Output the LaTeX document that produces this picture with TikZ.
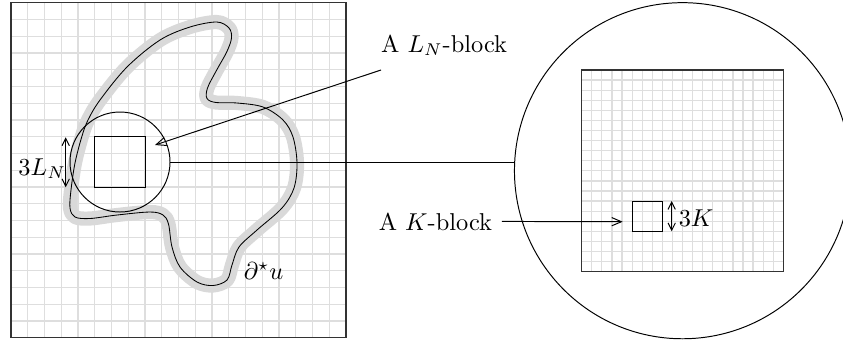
\documentclass[tikz,border=0pt]{standalone}
\usetikzlibrary{arrows.meta}
\begin{document}
\begin{tikzpicture}[x=0.41pt,y=-0.41pt,
  gridline/.style={black!13, line width=0.5pt},
  frame/.style={black!80, line width=0.6pt},
  thinline/.style={black, line width=0.4pt},
  pointer/.style={thinline, -{Straight Barb[length=4pt,width=3.4pt]}},
  measure/.style={thinline, {Straight Barb[length=3pt,width=3pt]}-{Straight Barb[length=3pt,width=3pt]}},
  lab/.style={inner sep=0pt, anchor=base west},
  blockbox/.style={draw, thinline, inner sep=0pt, rectangle},
  ring/.style={draw, thinline, inner sep=0pt, circle}]
\useasboundingbox (0,0) rectangle (843,343);
% left grid
\foreach \i in {1,...,19}{
  \draw[gridline] ({11+16.75*\i},2.7) -- ({11+16.75*\i},337.7);
  \draw[gridline] (11,{2.7+16.75*\i}) -- (346,{2.7+16.75*\i});
}
\draw[frame] (11,2.7) rectangle (346,337.7);
% blob
\draw[black, line width=0.35pt, preaction={draw, black!15, line width=5.8pt, line join=round}]
  plot[smooth cycle, tension=0.55] coordinates {
  (216.7,22) (229,28) (231.5,38) (226.7,52) (216.7,70) (207.5,88) (207,98.5)
  (216,102.5) (237,103) (263,107) (283,120) (293,137) (297,163) (294,188)
  (282,208) (257,230) (239,247) (232,265) (227,280) (213,285.5) (197,282)
  (180,267) (172,247) (168.5,224) (163,215) (150,212) (117,215) (90,218.5)
  (75,217) (70,208) (71,190) (75,163) (81.7,137) (88,120) (100,100)
  (127,67) (160,40) (190,27)};
% L_N block
\node[blockbox, minimum size=20.6pt] (lbox) at (120,162) {};
\node[ring, minimum size=41pt] (lcirc) at (120,162) {};
\coordinate (la1) at (65.7,137.3);
\coordinate (la2) at (65.7,187.3);
\draw[measure] (la1) -- (la2);
\node[lab] (lnlen) at (18,175) {$3L_N$};
\node[lab] (bdry) at (243.3,279) {$\partial^\star u$};
% labels top
\node[lab] (lnlab) at (380.7,52.3) {A $L_N$-block};
\coordinate (lnstart) at (381,70);
\coordinate (lntip) at (155,145);
\draw[pointer] (lnstart) -- (lntip);
% big circle
\node[ring, minimum size=137.8pt] (bcirc) at (682.5,170.7) {};
\draw[thinline] (lcirc.east) -- (lcirc.east -| bcirc.west);
% right grid
\foreach \i in {1,...,19}{
  \draw[gridline] ({581.7+10.08*\i},70) -- ({581.7+10.08*\i},271.3);
  \draw[gridline] (581.7,{70+10.08*\i}) -- (783.3,{70+10.08*\i});
}
\draw[frame] (581.7,70) rectangle (783.3,271.3);
% K block
\node[blockbox, minimum size=12.4pt] (kbox) at (647.2,216.1) {};
\coordinate (ka1) at (671.7,201);
\coordinate (ka2) at (671.7,231.3);
\draw[measure] (ka1) -- (ka2);
\node[lab] (klen) at (678.3,226.7) {$3K$};
\node[lab] (kblab) at (378.3,230) {A $K$-block};
\coordinate (ktip) at (622.7,221.7);
\draw[pointer, shorten <=3.8pt] (kblab.east) -- (ktip);
\end{tikzpicture}
\end{document}
